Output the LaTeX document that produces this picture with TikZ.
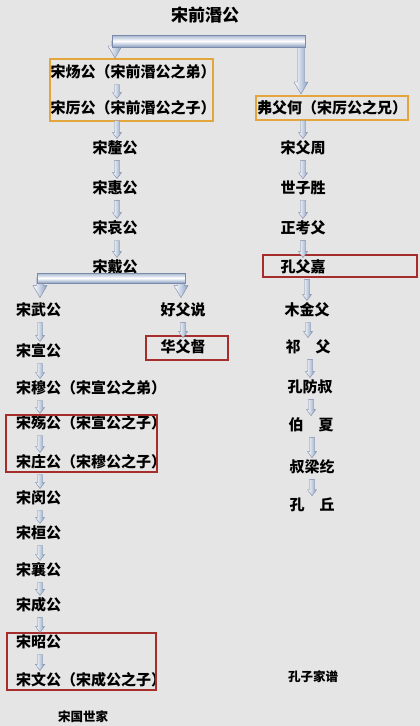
\documentclass[tikz,border=0pt]{standalone}
\usepackage{fontspec}
\newfontfamily\cjk{Noto Sans CJK SC}
\usetikzlibrary{calc}

\definecolor{paper}{HTML}{E5E5E5}
\definecolor{arrowblue}{HTML}{8CA1C3}
\definecolor{arrowline}{HTML}{7A8AA8}
\definecolor{goldline}{HTML}{E3A63C}
\definecolor{redline}{HTML}{A52E2C}

\tikzset{
    person/.style={font=\cjk\bfseries\fontsize{15}{17}\selectfont, inner sep=1pt},
    toptitle/.style={font=\cjk\bfseries\fontsize{17}{19}\selectfont, inner sep=1pt},
    foot/.style={font=\cjk\bfseries\fontsize{12.5}{14}\selectfont, inner sep=1pt},
    goldframe/.style={draw=goldline, line width=1.8pt},
    redframe/.style={draw=redline, line width=1.5pt},
    arr/.style={left color=white, right color=arrowblue, draw=arrowline, line width=0.4pt},
    bar/.style={top color=arrowblue!80, bottom color=arrowblue, middle color=white, draw=arrowline, line width=0.4pt}
}

% small block arrow, x taken from the target
\newcommand{\dnarr}[2]{%
    \shadedraw[arr] let \p1=#1, \p2=#2 in
        ({\x2-2.5pt},{\y1-4pt}) -- ({\x2+2.5pt},{\y1-4pt}) -- ({\x2+2.5pt},{\y2+7pt})
        -- ({\x2+4.5pt},{\y2+7pt}) -- (\x2,{\y2+1pt}) -- ({\x2-4.5pt},{\y2+7pt})
        -- ({\x2-2.5pt},{\y2+7pt}) -- cycle;}
% wide leg of a branch arrow
\newcommand{\brarr}[2]{%
    \shadedraw[arr] let \p1=#1, \p2=#2 in
        ({\x2-3.5pt},\y1) -- ({\x2+3.5pt},\y1) -- ({\x2+3.5pt},{\y2+13pt})
        -- ({\x2+7pt},{\y2+13pt}) -- (\x2,{\y2+1pt}) -- ({\x2-7pt},{\y2+13pt})
        -- ({\x2-3.5pt},{\y2+13pt}) -- cycle;}

\begin{document}
\begin{tikzpicture}[x=1pt,y=-1pt]
    \fill[paper] (0,0) rectangle (420,726);
    \useasboundingbox (0,0) rectangle (420,726);

    \node[toptitle] (qian) at (205,15) {宋前湣公};

    % left line, upper part
    \node[person] (yang) at (133,72)  {宋炀公（宋前湣公之弟）};
    \node[person] (li)   at (133,108) {宋厉公（宋前湣公之子）};
    \node[person] (xi)   at (115,148) {宋釐公};
    \node[person] (hui)  at (115,188) {宋惠公};
    \node[person] (ai)   at (115,228) {宋哀公};
    \node[person] (dai)  at (115,267) {宋戴公};

    % left line, lower part
    \node[person,anchor=west] (wu)     at (15,310) {宋武公};
    \node[person,anchor=west] (xuan)   at (15,351) {宋宣公};
    \node[person,anchor=west] (mu)     at (15,388) {宋穆公（宋宣公之弟）};
    \node[person,anchor=west] (shang)  at (15,423) {宋殇公（宋宣公之子）};
    \node[person,anchor=west] (zhuang) at (15,462) {宋庄公（宋穆公之子）};
    \node[person,anchor=west] (min)    at (15,498) {宋闵公};
    \node[person,anchor=west] (huan)   at (15,533) {宋桓公};
    \node[person,anchor=west] (xiang)  at (15,570) {宋襄公};
    \node[person,anchor=west] (cheng)  at (15,605) {宋成公};
    \node[person,anchor=west] (zhao)   at (15,642) {宋昭公};
    \node[person,anchor=west] (wen)    at (15,680) {宋文公（宋成公之子）};

    % middle
    \node[person] (haofu) at (183,310) {好父说};
    \node[person] (huafu) at (183,347) {华父督};

    % right line
    \node[person] (fufuhe)    at (332,108) {弗父何（宋厉公之兄）};
    \node[person] (fuzhou)    at (303,148) {宋父周};
    \node[person] (shisheng)  at (303,188) {世子胜};
    \node[person] (zhengkao)  at (303,228) {正考父};
    \node[person] (kongfujia) at (303,267) {孔父嘉};
    \node[person] (mujin)     at (307,310) {木金父};
    \node[person] (qifu)      at (308,347) {祁　父};
    \node[person] (fangshu)   at (310,387) {孔防叔};
    \node[person] (boxia)     at (311,425) {伯　夏};
    \node[person] (shuliang)  at (312,467) {叔梁纥};
    \node[person] (kongqiu)   at (312,505) {孔　丘};

    \node[foot] (songguo) at (83,717)  {宋国世家};
    \node[foot] (kongzi)  at (313,677) {孔子家谱};

    % frames
    \draw[goldframe] (50,59) rectangle (213,121);
    \draw[goldframe] (256,96) rectangle (408,120);
    \draw[redframe] (263,255) rectangle (417,277);
    \draw[redframe] (146,336) rectangle (228,360);
    \draw[redframe] (6,415) rectangle (157,472);
    \draw[redframe] (7,633) rectangle (156,690);

    % first branch
    \coordinate (barA1) at (112,35);
    \coordinate (barA2) at (305,47);
    \coordinate (boxtopL) at (115,59);
    \coordinate (boxtopR) at (301,95);
    \brarr{(115,41)}{(boxtopL)}
    \brarr{(301,41)}{(boxtopR)}
    \shadedraw[bar] (barA1) rectangle (barA2);

    % second branch
    \coordinate (barB1) at (37,273);
    \coordinate (barB2) at (185,283);
    \brarr{(40,278)}{([xshift=25pt,yshift=3pt]wu.north west)}
    \brarr{(181,278)}{([xshift=-2pt,yshift=3pt]haofu.north)}
    \shadedraw[bar] (barB1) rectangle (barB2);

    % left line arrows
    \dnarr{(yang.south)}{([xshift=-16pt]li.north)}
    \dnarr{(li.south)}{([xshift=2pt]xi.north)}
    \dnarr{(xi.south)}{([xshift=2pt]hui.north)}
    \dnarr{(hui.south)}{([xshift=2pt]ai.north)}
    \dnarr{(ai.south)}{([xshift=2pt]dai.north)}
    \foreach \a/\b in {wu/xuan, xuan/mu, mu/shang, shang/zhuang, zhuang/min,
                       min/huan, huan/xiang, xiang/cheng, cheng/zhao, zhao/wen}
        \dnarr{(\a.south)}{([xshift=25pt]\b.north west)};

    % middle arrow
    \dnarr{(haofu.south)}{(huafu.north)}

    % right line arrows
    \dnarr{(fufuhe.south)}{(fuzhou.north)}
    \foreach \a/\b in {fuzhou/shisheng, shisheng/zhengkao, zhengkao/kongfujia,
                       kongfujia/mujin, mujin/qifu, qifu/fangshu, fangshu/boxia,
                       boxia/shuliang, shuliang/kongqiu}
        \dnarr{(\a.south)}{(\b.north)};
\end{tikzpicture}
\end{document}
